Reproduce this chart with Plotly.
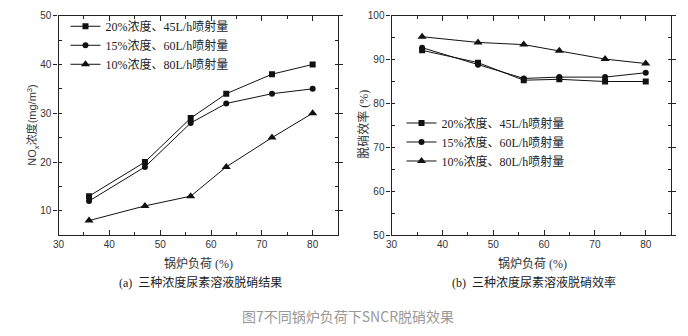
import plotly.graph_objects as go

# ---------------- data ----------------
load = [36, 47, 56, 63, 72, 80]
series_names = ["20%浓度、45L/h喷射量", "15%浓度、60L/h喷射量", "10%浓度、80L/h喷射量"]
symbols = ["square", "circle", "triangle-up"]

nox_20 = [13, 20, 29, 34, 38, 40]
nox_15 = [12, 19, 28, 32, 34, 35]
nox_10 = [8, 11, 13, 19, 25, 30]

eff_20 = [92.1, 89.3, 85.3, 85.5, 85.0, 85.0]
eff_15 = [92.7, 88.8, 85.7, 86.0, 86.0, 87.0]
eff_10 = [95.2, 93.9, 93.4, 92.0, 90.1, 89.1]

x_ticks = [30, 40, 50, 60, 70, 80]

W, H = 688, 336
SERIF = "Times New Roman, Liberation Serif, Noto Sans CJK SC, serif"
SANS = "Arial, Liberation Sans, Noto Sans CJK SC, sans-serif"

fig = go.Figure()

left = [nox_20, nox_15, nox_10]
right = [eff_20, eff_15, eff_10]
msize = [6, 6, 8]
for i in range(3):
    fig.add_trace(go.Scatter(
        x=load, y=left[i], mode="lines+markers", name=series_names[i],
        line=dict(color="#111", width=1),
        marker=dict(symbol=symbols[i], size=msize[i], color="#111"),
        xaxis="x", yaxis="y", legend="legend"))
for i in range(3):
    fig.add_trace(go.Scatter(
        x=load, y=right[i], mode="lines+markers", name=series_names[i],
        line=dict(color="#111", width=1),
        marker=dict(symbol=symbols[i], size=msize[i], color="#111"),
        xaxis="x2", yaxis="y2", legend="legend2"))

def px_x(p):
    return p / W

def px_y(p):
    return 1 - p / H

axis_x = dict(
    showgrid=False, zeroline=False, showline=True, linecolor="#222", linewidth=1.3,
    mirror="ticks", ticks="inside", ticklen=5, tickwidth=1, tickcolor="#222",
    tickfont=dict(family=SANS, size=10, color="#333"),
    minor=dict(ticks="inside", ticklen=3, tickwidth=1, tickcolor="#222", dtick=5),
)
axis_y = dict(
    showgrid=False, zeroline=False, showline=True, linecolor="#222", linewidth=1.3,
    mirror="ticks", ticks="outside", ticklen=4, tickwidth=1, tickcolor="#222",
    tickfont=dict(family=SANS, size=10, color="#333"),
    minor=dict(ticks="inside", ticklen=3, tickwidth=1, tickcolor="#222", dtick=5),
)

legend_font = dict(family=SERIF, size=12, color="#222")
fig.update_layout(
    width=W, height=H,
    margin=dict(l=0, r=0, t=0, b=0),
    paper_bgcolor="white", plot_bgcolor="white",
    xaxis=dict(domain=[px_x(53), px_x(335)], range=[30, 85], tickvals=x_ticks,
               anchor="y", **axis_x),
    yaxis=dict(domain=[px_y(238), px_y(11)], range=[5, 50], dtick=10, tick0=0,
               anchor="x", **axis_y),
    xaxis2=dict(domain=[px_x(389), px_x(671)], range=[30, 85], tickvals=x_ticks,
                anchor="y2", **axis_x),
    yaxis2=dict(domain=[px_y(238), px_y(11)], range=[50, 100], dtick=10, tick0=0,
                anchor="x2", **axis_y),
    legend=dict(x=px_x(60), y=px_y(7), xanchor="left", yanchor="top",
                bgcolor="rgba(0,0,0,0)", font=legend_font,
                itemwidth=30, tracegroupgap=0),
    legend2=dict(x=px_x(399), y=px_y(107), xanchor="left", yanchor="top",
                 bgcolor="rgba(0,0,0,0)", font=legend_font,
                 itemwidth=30, tracegroupgap=0),
    showlegend=True,
)

annots = [
    dict(x=px_x(27), y=px_y(124), text="NO<sub>x</sub>浓度(mg/m<sup>3</sup>)", textangle=-90,
         font=dict(family=SANS, size=11, color="#333")),
    dict(x=px_x(361), y=px_y(123), text="脱硝效率 (%)", textangle=-90,
         font=dict(family=SERIF, size=12, color="#333")),
    dict(x=px_x(194), y=px_y(267), text="锅炉负荷 (%)",
         font=dict(family=SERIF, size=12, color="#333")),
    dict(x=px_x(531), y=px_y(267), text="锅炉负荷 (%)",
         font=dict(family=SERIF, size=12, color="#333")),
    dict(x=px_x(196), y=px_y(287), text="(a)  三种浓度尿素溶液脱硝结果",
         font=dict(family=SERIF, size=12, color="#222")),
    dict(x=px_x(533), y=px_y(287), text="(b)  三种浓度尿素溶液脱硝效率",
         font=dict(family=SERIF, size=12, color="#222")),
    dict(x=px_x(345), y=px_y(322), text="图7不同锅炉负荷下SNCR脱硝效果",
         font=dict(family="Noto Sans CJK SC, sans-serif", size=14, color="#999")),
]
for a in annots:
    a.update(xref="paper", yref="paper", showarrow=False, xanchor="center", yanchor="middle")
    fig.add_annotation(**a)

fig.write_html("out.html")
